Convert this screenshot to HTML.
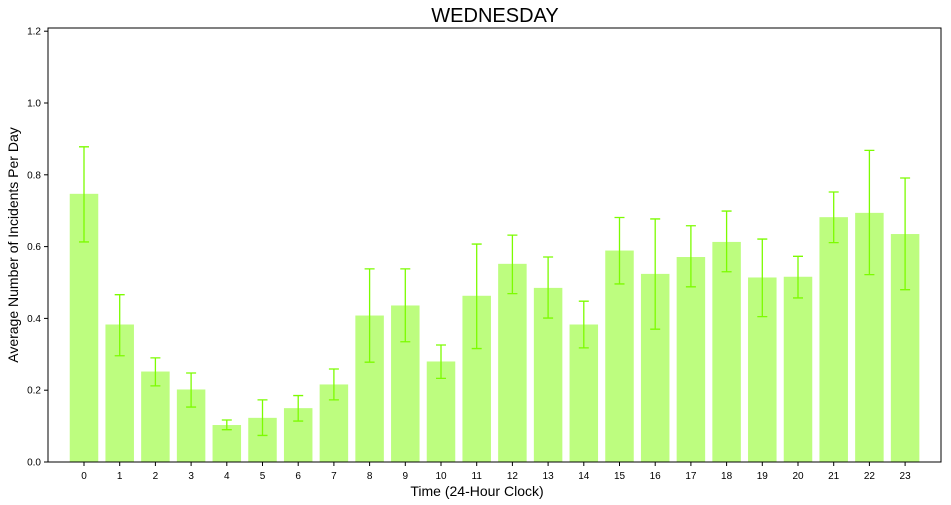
<!DOCTYPE html>
<html><head><meta charset="utf-8"><style>
body{margin:0;background:#fff;}
svg{display:block;font-family:"Liberation Sans",sans-serif;}
</style></head><body>
<svg id="chart" width="951" height="505">
<text x="495" y="22" text-anchor="middle" font-size="20">WEDNESDAY</text>
<text x="477" y="496" text-anchor="middle" font-size="14">Time (24-Hour Clock)</text>
<text transform="translate(18,245) rotate(-90)" text-anchor="middle" font-size="14">Average Number of Incidents Per Day</text>
<g id="marks"></g>
<rect x="48" y="28" width="893" height="434" fill="none" stroke="#000" stroke-width="1"/>
</svg>
<script>
const categories=["0","1","2","3","4","5","6","7","8","9","10","11","12","13","14","15","16","17","18","19","20","21","22","23"];
const values=[0.747,0.383,0.252,0.202,0.103,0.123,0.150,0.216,0.408,0.436,0.280,0.463,0.552,0.485,0.383,0.589,0.524,0.571,0.613,0.514,0.516,0.682,0.694,0.635];
const errLow=[0.613,0.296,0.212,0.153,0.090,0.074,0.114,0.173,0.278,0.335,0.233,0.316,0.469,0.401,0.318,0.496,0.370,0.488,0.530,0.405,0.457,0.611,0.522,0.480];
const errHigh=[0.878,0.466,0.290,0.248,0.117,0.173,0.185,0.259,0.538,0.538,0.326,0.607,0.632,0.571,0.448,0.681,0.677,0.658,0.699,0.621,0.573,0.752,0.868,0.791];
const yTicks=[0,0.2,0.4,0.6,0.8,1.0,1.2];
const yTickLabels=["0.0","0.2","0.4","0.6","0.8","1.0","1.2"];
const NS="http://www.w3.org/2000/svg";
const g=document.getElementById('marks');
const step=35.7, x0=84;
function xs(i){return x0+i*step;}
function ys(v){return 462-v*359;}
function mk(t,a){const e=document.createElementNS(NS,t);for(const k in a)e.setAttribute(k,a[k]);g.appendChild(e);return e;}
categories.forEach((c,i)=>{
  const x=xs(i), bw=28.5;
  const r=mk('rect',{x:x-bw/2,y:ys(values[i]),width:bw,height:ys(0)-ys(values[i]),fill:'#bdfd7f'});
  
  
  const l=mk('path',{d:`M${x},${ys(errLow[i])}V${ys(errHigh[i])}M${x-5},${ys(errLow[i])}H${x+5}M${x-5},${ys(errHigh[i])}H${x+5}`,stroke:'#7cfc00','stroke-width':1.3,fill:'none'});
  
  
  mk('line',{x1:x,x2:x,y1:462,y2:466,stroke:'#000'});
  const t=mk('text',{x:x,y:479,'text-anchor':'middle','font-size':10});
  t.textContent=c;
  
  
});
yTicks.forEach((v,i)=>{
  const y=ys(v);
  mk('line',{x1:44,x2:48,y1:y,y2:y,stroke:'#000'});
  const t=mk('text',{x:41,y:y+3.5,'text-anchor':'end','font-size':10});
  t.textContent=yTickLabels[i];
  
  
});
</script>
</body></html>
